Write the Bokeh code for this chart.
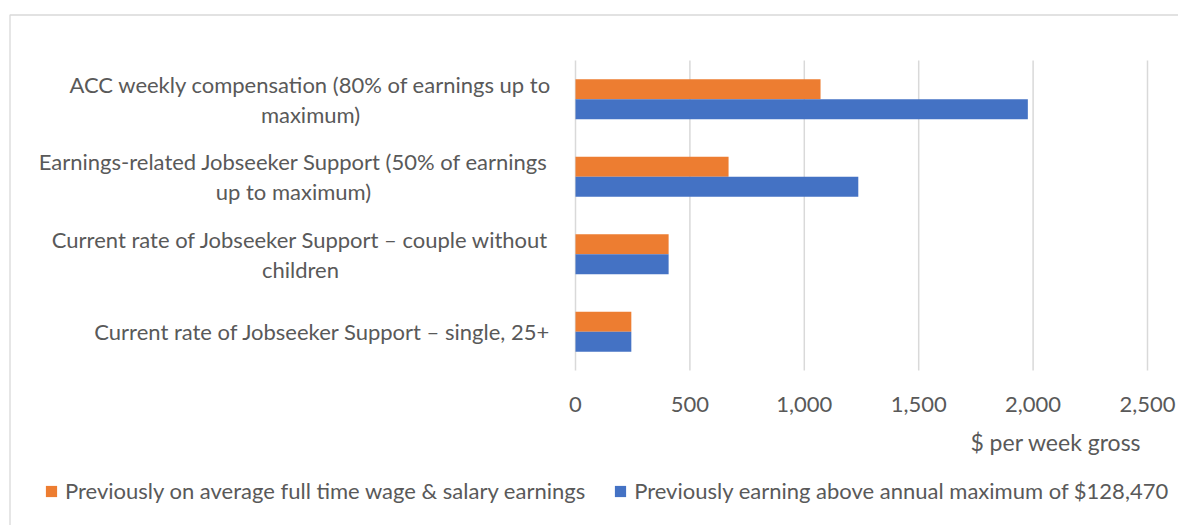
from bokeh.plotting import figure
from bokeh.models import Range1d, Legend, LegendItem, ColumnDataSource
from bokeh.transform import dodge
from bokeh.embed import file_html
from bokeh.resources import INLINE

# ---- data ----
categories = [
    "Current rate of Jobseeker Support – single, 25+",
    "Current rate of Jobseeker Support – couple without children",
    "Earnings-related Jobseeker Support (50% of earnings up to maximum)",
    "ACC weekly compensation (80% of earnings up to maximum)",
]
category_lines = [
    "Current rate of Jobseeker Support – single, 25+",
    "Current rate of Jobseeker Support – couple without\nchildren",
    "Earnings-related Jobseeker Support (50% of earnings\nup to maximum)",
    "ACC weekly compensation (80% of earnings up to\nmaximum)",
]
series_names = [
    "Previously on average full time wage & salary earnings",
    "Previously earning above annual maximum of $128,470",
]
avg_earnings = [244, 407, 669, 1071]
above_max = [244, 407, 1236, 1977]
x_ticks = [0, 500, 1000, 1500, 2000, 2500]
x_title = "$ per week gross"

# ---- styles / layout (screen pixels) ----
FONT = "Lato"
TXT = "#595959"
GRID = "#D9D9D9"
ORANGE = "#ED7D31"
BLUE = "#4472C4"
FS = "22px"
FS_TITLE = "23px"
FS_LEGEND = "22px"

W, H = 1178, 525
ZERO_PX, MAX_PX = 575, 1147        # x pixel of value 0 / of the last tick
TOP_PX, BOT_PX = 60, 370           # y pixels of the top / bottom of the plot area
n = len(categories)
kx = (MAX_PX - ZERO_PX) / x_ticks[-1]     # px per $
ky = (BOT_PX - TOP_PX) / n                # px per category band


def dx(px):  # screen x -> data x
    return (px - ZERO_PX) / kx


def dy(py):  # screen y (from top) -> data y
    return (BOT_PX - py) / ky


label_centers_px = [322, 300, 293, 310]
TICK_LABEL_Y = 404
TITLE_X, TITLE_Y = 1141, 441

p = figure(width=W, height=H, output_backend="svg", toolbar_location=None,
           x_range=Range1d(dx(0), dx(W)), y_range=Range1d(dy(H), dy(0)),
           min_border=0)
p.min_border_left = p.min_border_right = p.min_border_top = p.min_border_bottom = 0
p.outline_line_color = None
p.axis.visible = False
p.grid.visible = False
p.background_fill_color = "white"
p.border_fill_color = "white"

pos = [i + 0.5 for i in range(n)]   # band centre of each category (bottom to top)
src = ColumnDataSource(dict(cat=categories, pos=pos, a=avg_earnings, b=above_max,
                            lab=category_lines,
                            lx=[dx(c) for c in label_centers_px]))

# chart border (top and left edges visible)
p.line(x=[dx(9.5), dx(9.5), dx(W + 5)], y=[dy(H + 5), dy(14.5), dy(14.5)],
       line_color=GRID, line_width=1.3)

# vertical gridlines at the ticks
p.segment(x0=x_ticks, y0=[0] * len(x_ticks), x1=x_ticks, y1=[n] * len(x_ticks),
          line_color=GRID, line_width=1.5)

r1 = p.hbar(y=dodge("pos", 0.128), right="a", left=0, height=0.258,
            source=src, fill_color=ORANGE, line_color=None)
r2 = p.hbar(y=dodge("pos", -0.128), right="b", left=0, height=0.258,
            source=src, fill_color=BLUE, line_color=None)

# category labels
p.text(x="lx", y="pos", text="lab", source=src, text_align="center",
       text_baseline="middle", text_font={"value": FONT}, text_font_size={"value": FS},
       text_color=TXT, text_line_height=1.1)

# x tick labels
p.text(x=x_ticks, y=[dy(TICK_LABEL_Y)] * len(x_ticks),
       text=[f"{t:,}" for t in x_ticks], text_align="center", text_baseline="middle",
       text_font={"value": FONT}, text_font_size={"value": FS}, text_color=TXT)

# x axis title
p.text(x=[dx(TITLE_X)], y=[dy(TITLE_Y)], text=[x_title], text_align="right",
       text_baseline="middle", text_font={"value": FONT},
       text_font_size={"value": FS_TITLE}, text_color=TXT)

legend = Legend(items=[LegendItem(label=series_names[0], renderers=[r1]),
                       LegendItem(label=series_names[1], renderers=[r2])],
                orientation="horizontal", location=(44, 21),
                glyph_width=14, glyph_height=14, label_standoff=7, spacing=28,
                label_height=24, padding=0, margin=0, border_line_color=None,
                background_fill_alpha=0,
                label_text_font=FONT, label_text_font_size=FS_LEGEND,
                label_text_color=TXT)
p.add_layout(legend)

open("out.html", "w").write(file_html(p, INLINE))
